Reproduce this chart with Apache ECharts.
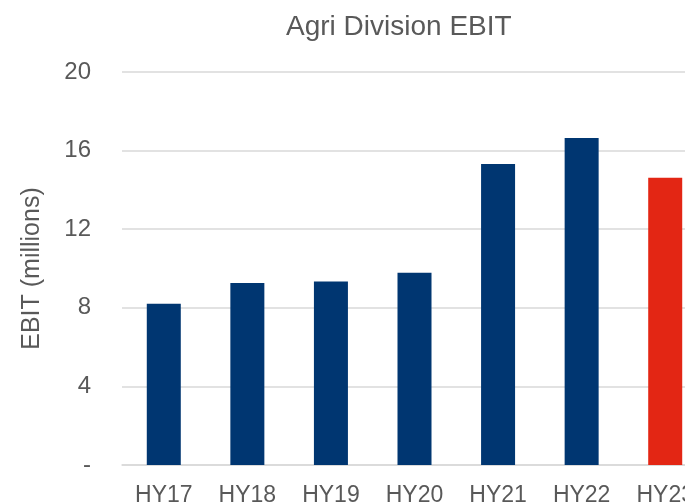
<!DOCTYPE html>
<html>
<head>
<meta charset="utf-8">
<script src="https://cdn.jsdelivr.net/npm/echarts@6/dist/echarts.min.js"></script>
<style>
  html, body { margin: 0; padding: 0; background: #fff; }
  #chart { width: 685px; height: 502px; }
</style>
</head>
<body>
<div id="chart"></div>
<script>
  const categories = ['HY17', 'HY18', 'HY19', 'HY20', 'HY21', 'HY22', 'HY23'];
  const ebit = [8.21, 9.26, 9.34, 9.79, 15.32, 16.64, 14.62];
  const yTicks = [0, 4, 8, 12, 16, 20];

  const chart = echarts.init(document.getElementById('chart'));
  chart.setOption({
    backgroundColor: '#ffffff',
    animation: false,
    title: {
      text: 'Agri Division EBIT',
      left: 281,
      top: 8,
      textStyle: {
        fontFamily: 'Liberation Sans',
        fontSize: 28,
        fontWeight: 'normal',
        color: '#595959'
      }
    },
    grid: {
      left: 122,
      right: -22,
      top: 72,
      bottom: 37,
      containLabel: false,
      outerBoundsMode: 'none'
    },
    xAxis: {
      type: 'category',
      data: categories,
      axisLine: { lineStyle: { color: '#d9d9d9', width: 1.5 } },
      axisTick: { show: false },
      axisLabel: {
        margin: 19,
        fontFamily: 'Liberation Sans',
        fontSize: 23,
        color: '#595959'
      }
    },
    yAxis: {
      type: 'value',
      min: 0,
      max: 20,
      interval: 4,
      name: 'EBIT (millions)',
      nameLocation: 'middle',
      nameGap: 77,
      nameTextStyle: {
        fontFamily: 'Liberation Sans',
        fontSize: 25,
        color: '#595959'
      },
      axisLine: { show: false },
      axisTick: { show: false },
      splitLine: { lineStyle: { color: '#d9d9d9', width: 1.5 } },
      axisLabel: {
        margin: 31,
        fontFamily: 'Liberation Sans',
        fontSize: 24,
        color: '#595959',
        formatter: function (v) {
          return yTicks.indexOf(v) === 0 ? '-' : String(v);
        }
      }
    },
    series: [{
      type: 'bar',
      barWidth: 34,
      data: ebit.map(function (v, i) {
        return {
          value: v,
          itemStyle: { color: i === ebit.length - 1 ? '#e32614' : '#003671' }
        };
      })
    }]
  });
</script>
</body>
</html>
